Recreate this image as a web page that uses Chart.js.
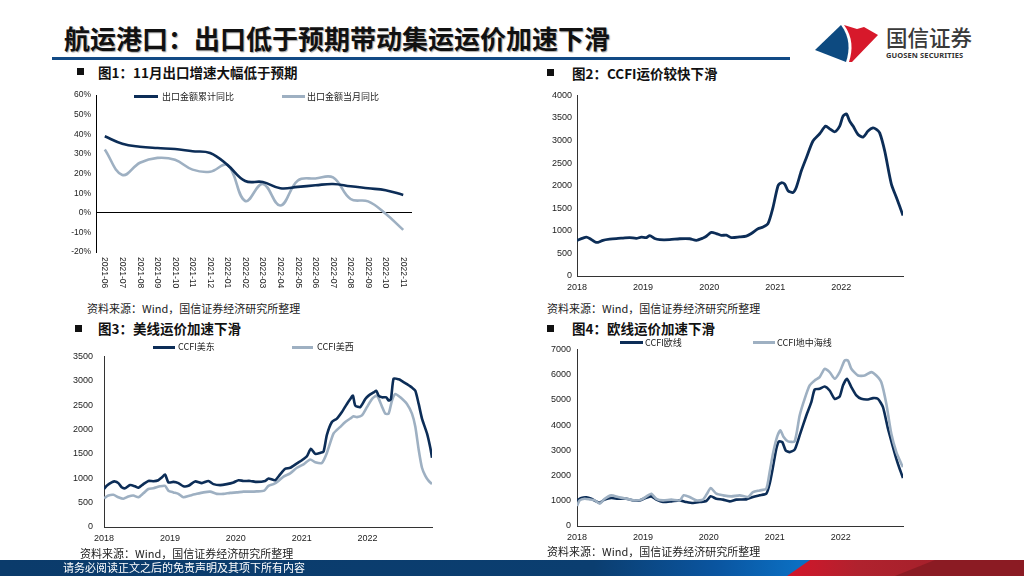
<!DOCTYPE html>
<html><head><meta charset="utf-8">
<script src="https://cdn.jsdelivr.net/npm/chart.js@4.4.1/dist/chart.umd.min.js"></script>
<style>
html,body{margin:0;padding:0;}
body{width:1024px;height:576px;position:relative;background:#fff;overflow:hidden;font-family:"Noto Sans CJK SC","Noto Sans",sans-serif;color:#111;}
.abs{position:absolute;white-space:nowrap;}
canvas{position:absolute;}
.sq{position:absolute;width:7px;height:7px;background:#111;}
.sub{position:absolute;font-size:13.5px;font-weight:bold;line-height:14px;white-space:nowrap;color:#111;}
.src{position:absolute;font-size:11px;line-height:12px;white-space:nowrap;color:#222;}
.lg{position:absolute;height:3px;}
.lgt{position:absolute;font-size:9px;line-height:10px;white-space:nowrap;color:#222;}
</style></head><body>

<svg class="abs" style="left:0;top:0;" width="1024" height="576">
  <defs>
    <linearGradient id="fb" x1="0" y1="0" x2="1" y2="0">
      <stop offset="0" stop-color="#0b3b6b"/>
      <stop offset="0.58" stop-color="#0b3e70"/>
      <stop offset="0.70" stop-color="#0a55a0"/>
      <stop offset="0.78" stop-color="#0b6fc2"/>
    </linearGradient>
    <linearGradient id="fr" x1="0" y1="0" x2="1" y2="0">
      <stop offset="0" stop-color="#d4152a"/>
      <stop offset="0.3" stop-color="#b0222e"/>
      <stop offset="1" stop-color="#9a1f28"/>
    </linearGradient>
  </defs>
  <rect x="0" y="560" width="1024" height="16" fill="url(#fb)"/>
  <polygon points="787,576 810,560 1024,560 1024,576" fill="url(#fr)"/>
  <polygon points="895,576 935,560 1024,560 1024,576" fill="#8b1b23"/>
  <rect x="52" y="57" width="738" height="3" fill="#124a85"/>
  <path d="M815,50 L841,25 C850,37 850,50 846,62 Z" fill="#0d4a80"/>
  <path d="M844,25 L857,29 L864,27 L878,35 L852,62 L849,62 C853,50 853,37 844,25 Z" fill="#d7192b"/>
</svg>

<div class="abs" style="left:64px;top:24px;font-size:26px;line-height:28px;font-weight:bold;color:#111;text-shadow:1px 1px 1px #aaa;">航运港口：出口低于预期带动集运运价加速下滑</div>
<div class="abs" style="left:886px;top:25px;font-size:21.5px;line-height:24px;color:#3a3a3a;font-weight:500;">国信证券</div>
<div class="abs" style="left:886px;top:50px;font-size:7.5px;line-height:10px;color:#333;font-weight:bold;font-family:'Noto Sans','DejaVu Sans',sans-serif;letter-spacing:0.1px;">GUOSEN SECURITIES</div>

<div class="sq" style="left:77px;top:68px;"></div>
<div class="sub" style="left:98px;top:65px;">图1：11月出口增速大幅低于预期</div>
<div class="sq" style="left:547px;top:69px;"></div>
<div class="sub" style="left:572px;top:66px;">图2：CCFI运价较快下滑</div>
<div class="sq" style="left:75px;top:325px;"></div>
<div class="sub" style="left:98px;top:321px;">图3：美线运价加速下滑</div>
<div class="sq" style="left:547px;top:325px;"></div>
<div class="sub" style="left:572px;top:321px;">图4：欧线运价加速下滑</div>

<canvas id="c1" width="365" height="215" style="left:55px;top:85px;width:365px;height:215px;"></canvas>
<canvas id="c2" width="370" height="215" style="left:540px;top:85px;width:370px;height:215px;"></canvas>
<canvas id="c3" width="385" height="212" style="left:55px;top:340px;width:385px;height:212px;"></canvas>
<canvas id="c4" width="370" height="212" style="left:540px;top:338px;width:370px;height:212px;"></canvas>

<div class="lg" style="left:134px;top:95px;width:24px;background:#0c2d57;"></div>
<div class="lgt" style="left:162px;top:92px;">出口金额累计同比</div>
<div class="lg" style="left:282px;top:95px;width:23px;background:#9eb0c2;"></div>
<div class="lgt" style="left:307px;top:92px;">出口金额当月同比</div>

<div class="lg" style="left:153px;top:346px;width:22px;background:#0c2d57;"></div>
<div class="lgt" style="left:178px;top:342px;">CCFI美东</div>
<div class="lg" style="left:292px;top:346px;width:21px;background:#9eb0c2;"></div>
<div class="lgt" style="left:317px;top:342px;">CCFI美西</div>

<div class="lg" style="left:620px;top:341px;width:23px;background:#0c2d57;"></div>
<div class="lgt" style="left:645px;top:338px;">CCFI欧线</div>
<div class="lg" style="left:753px;top:341px;width:22px;background:#9eb0c2;"></div>
<div class="lgt" style="left:777px;top:338px;">CCFI地中海线</div>

<div class="src" style="left:87px;top:302px;">资料来源：Wind，国信证券经济研究所整理</div>
<div class="src" style="left:547px;top:302px;">资料来源：Wind，国信证券经济研究所整理</div>
<div class="src" style="left:80px;top:547px;">资料来源：Wind，国信证券经济研究所整理</div>
<div class="src" style="left:547px;top:545px;">资料来源：Wind，国信证券经济研究所整理</div>

<div class="abs" style="left:63px;top:561px;font-size:11px;line-height:13px;color:#fff;">请务必阅读正文之后的免责声明及其项下所有内容</div>

<script>
// ---------- Chart 1: export growth ----------
const exportMonths = ['2021-06','2021-07','2021-08','2021-09','2021-10','2021-11','2021-12','2022-01','2022-02','2022-03','2022-04','2022-05','2022-06','2022-07','2022-08','2022-09','2022-10','2022-11'];
const exportCumYoY = [39.0,35.2,33.7,33.0,32.5,31.4,30.5,24.3,16.2,15.7,12.5,13.2,14.0,14.7,13.5,12.5,11.5,9.1];
const exportMonthYoY = [32.3,19.3,25.5,28.0,27.0,22.0,20.9,24.3,6.0,14.7,3.7,16.5,17.5,18.0,7.0,5.8,-0.5,-8.7];
const pctTicks = [60,50,40,30,20,10,0,-10,-20];

// ---------- Chart 2: CCFI composite ----------
const ccfiDates = [2018.000,2018.091,2018.141,2018.192,2018.267,2018.318,2018.393,2018.494,2018.595,2018.696,
  2018.797,2018.898,2018.974,2019.049,2019.100,2019.175,2019.251,2019.402,2019.554,2019.705,
  2019.806,2019.907,2019.957,2020.033,2020.108,2020.184,2020.260,2020.335,2020.461,2020.562,
  2020.638,2020.739,2020.815,2020.890,2020.966,2021.042,2021.092,2021.143,2021.193,2021.269,
  2021.319,2021.395,2021.471,2021.571,2021.672,2021.763,2021.823,2021.899,2021.975,2022.025,
  2022.076,2022.126,2022.177,2022.252,2022.328,2022.404,2022.479,2022.530,2022.580,2022.656,
  2022.757,2022.832,2022.933];
const ccfiValues = [790,840,860,830,760,745,790,815,830,840,
  850,835,860,850,895,830,805,805,825,825,
  790,840,880,965,940,900,905,850,865,885,
  940,1045,1085,1160,1520,2000,2065,2035,1890,1850,
  1965,2330,2620,2990,3150,3320,3260,3195,3320,3540,
  3590,3430,3320,3135,3075,3210,3280,3245,3170,2770,
  2035,1745,1340];

// ---------- Chart 3: US lines ----------
const usEastDates = [2018.000,2018.041,2018.116,2018.167,2018.218,2018.268,2018.319,2018.395,2018.471,2018.522,
  2018.597,2018.673,2018.749,2018.825,2018.876,2018.927,2018.977,2019.053,2019.129,2019.205,
  2019.281,2019.382,2019.484,2019.585,2019.661,2019.762,2019.863,2019.965,2020.041,2020.116,
  2020.218,2020.319,2020.446,2020.496,2020.597,2020.673,2020.749,2020.825,2020.927,2021.003,
  2021.078,2021.139,2021.205,2021.281,2021.332,2021.382,2021.458,2021.534,2021.610,2021.686,
  2021.737,2021.777,2021.813,2021.889,2021.965,2022.015,2022.091,2022.132,2022.167,2022.218,
  2022.284,2022.319,2022.354,2022.395,2022.471,2022.522,2022.597,2022.673,2022.724,2022.775,
  2022.825,2022.901,2022.952,2022.977];
const usEastValues = [780,845,915,935,900,815,795,860,835,805,
  880,945,940,960,1015,1075,915,925,900,835,
  845,935,900,945,880,860,880,915,960,945,
  945,925,945,995,960,1080,1195,1215,1305,1370,
  1450,1605,1500,1520,1550,1890,2155,2225,2360,2525,
  2625,2695,2490,2460,2625,2695,2760,2795,2695,2660,
  2660,2595,2625,3045,3030,2995,2930,2860,2795,2525,
  2225,1920,1620,1420];
const usWestDates = [2018.000,2018.066,2018.142,2018.218,2018.294,2018.370,2018.446,2018.522,2018.597,2018.673,
  2018.749,2018.851,2018.927,2018.977,2019.053,2019.129,2019.205,2019.306,2019.408,2019.509,
  2019.610,2019.711,2019.813,2019.914,2020.015,2020.116,2020.218,2020.319,2020.430,2020.496,
  2020.572,2020.648,2020.724,2020.825,2020.927,2021.028,2021.129,2021.205,2021.306,2021.382,
  2021.484,2021.585,2021.661,2021.737,2021.787,2021.838,2021.914,2021.990,2022.066,2022.142,
  2022.218,2022.268,2022.319,2022.370,2022.420,2022.496,2022.597,2022.673,2022.724,2022.775,
  2022.825,2022.876,2022.927,2022.977];
const usWestValues = [590,645,660,610,580,625,645,610,690,780,
  795,835,845,745,710,680,610,645,680,710,
  725,680,680,700,710,725,725,730,745,845,
  880,945,1035,1100,1215,1285,1385,1330,1315,1520,
  1920,2055,2155,2225,2270,2255,2290,2460,2625,2695,
  2470,2325,2325,2595,2730,2660,2525,2325,2055,1585,
  1215,1050,945,880];

// ---------- Chart 4: Europe lines ----------
const euDates = [2018.000,2018.066,2018.142,2018.217,2018.293,2018.344,2018.420,2018.521,2018.622,2018.748,
  2018.875,2018.951,2019.052,2019.128,2019.204,2019.305,2019.431,2019.558,2019.659,2019.760,
  2019.861,2019.962,2020.028,2020.114,2020.215,2020.316,2020.417,2020.569,2020.670,2020.771,
  2020.872,2020.923,2020.973,2021.024,2021.064,2021.115,2021.166,2021.226,2021.302,2021.378,
  2021.479,2021.555,2021.606,2021.681,2021.757,2021.833,2021.909,2021.985,2022.035,2022.096,
  2022.162,2022.238,2022.314,2022.415,2022.491,2022.566,2022.642,2022.718,2022.794,2022.845,
  2022.895,2022.946];
const euValues = [1015,1110,1135,1080,975,925,1045,1110,1080,1080,
  1005,1015,1120,1175,1045,950,975,1015,950,910,
  950,990,1175,1080,1045,975,1045,1055,1150,1215,
  1280,1675,2335,3060,3355,3325,2995,2930,3025,3590,
  4380,4910,5410,5440,5530,5370,5040,5135,5570,5835,
  5505,5175,5040,5015,5070,5040,4710,3855,3130,2665,
  2270,1900];
const medDates = [2018.000,2018.040,2018.116,2018.192,2018.268,2018.344,2018.420,2018.521,2018.622,2018.748,
  2018.875,2018.976,2019.077,2019.128,2019.204,2019.305,2019.431,2019.558,2019.618,2019.709,
  2019.810,2019.911,2019.972,2020.028,2020.114,2020.215,2020.341,2020.468,2020.594,2020.670,
  2020.771,2020.872,2020.923,2020.973,2021.034,2021.085,2021.135,2021.201,2021.302,2021.378,
  2021.454,2021.530,2021.606,2021.681,2021.757,2021.833,2021.909,2021.985,2022.061,2022.111,
  2022.162,2022.263,2022.364,2022.465,2022.541,2022.617,2022.693,2022.769,2022.845,2022.920,
  2022.946];
const medValues = [790,1015,1080,1055,1015,885,1080,1215,1150,1080,
  1015,1045,1215,1280,1080,1015,1045,1015,1215,1150,
  1015,1045,1280,1505,1280,1215,1175,1215,1150,1345,
  1410,1480,2140,2865,3525,3790,3525,3355,3355,4380,
  5040,5570,5770,5900,6230,6100,5835,6100,6560,6560,
  6230,5965,5965,6100,5965,5700,4845,3655,2930,2470,
  2335];

const yearTicks = [2018,2019,2020,2021,2022];

const DARK = '#0c2d57';
const LIGHT = '#9eb0c2';
const TICK_FONT = '"Liberation Sans", Arial, sans-serif';

function pairs(xs, ys){ return xs.map((x,i)=>({x:x, y:ys[i]})); }

Chart.defaults.animation = false;
Chart.defaults.font.family = TICK_FONT;
Chart.defaults.color = '#222';

// rotated (clockwise) category labels for chart 1
const rotLabels = {
  id:'rotLabels',
  afterDraw(chart){
    const xs = chart.scales.x, ctx = chart.ctx, top = chart.chartArea.bottom + 5;
    ctx.save();
    ctx.font = '8.5px ' + TICK_FONT;
    ctx.fillStyle = '#222';
    ctx.textAlign = 'left';
    ctx.textBaseline = 'middle';
    chart.data.labels.forEach((l,i)=>{
      const x = xs.getPixelForValue(i);
      ctx.save(); ctx.translate(x, top); ctx.rotate(Math.PI/2); ctx.fillText(l,0,0); ctx.restore();
    });
    ctx.restore();
  }
};

new Chart(document.getElementById('c1'), {
  type:'line',
  data:{
    labels: exportMonths,
    datasets:[
      {label:'出口金额累计同比', data: exportCumYoY, borderColor: DARK, borderWidth:2.6, pointRadius:0, tension:0.4},
      {label:'出口金额当月同比', data: exportMonthYoY, borderColor: LIGHT, borderWidth:2.6, pointRadius:0, tension:0.4}
    ]
  },
  options:{
    responsive:false, maintainAspectRatio:false,
    layout:{padding:{top:8,right:8,bottom:0,left:0}},
    plugins:{legend:{display:false}, tooltip:{enabled:false}},
    scales:{
      x:{type:'category', offset:true, ticks:{display:false}, grid:{display:false}, border:{display:false},
         afterFit: s => { s.height = 48; }},
      y:{min:-20, max:60,
         afterBuildTicks: s => { s.ticks = pctTicks.map(v=>({value:v})); },
         ticks:{font:{size:8.5}, padding:5, callback: v => v + '%'},
         grid:{drawTicks:false, color: c => (c.tick && c.tick.value === 0) ? '#000' : 'rgba(0,0,0,0)', lineWidth:1},
         border:{display:true, color:'#000', width:1},
         afterFit: s => { s.width = 41; }}
    }
  },
  plugins:[rotLabels]
});

function yearChart(id, datasets, yMax, yStep, xMax, yWidth, pad, xHeight, yPad){
  const yt = [];
  for (let v = 0; v <= yMax; v += yStep) yt.push(v);
  return new Chart(document.getElementById(id), {
    type:'line',
    data:{datasets: datasets},
    options:{
      responsive:false, maintainAspectRatio:false,
      layout:{padding:pad},
      plugins:{legend:{display:false}, tooltip:{enabled:false}},
      parsing:false,
      scales:{
        x:{type:'linear', min:2018, max:xMax,
           afterBuildTicks: s => { s.ticks = yearTicks.map(v=>({value:v})); },
           ticks:{font:{size:9}, padding:6, maxRotation:0, callback: v => String(v)},
           grid:{display:true, drawOnChartArea:false, drawTicks:false},
           border:{display:true, color:'#333', width:1},
           afterFit: s => { s.height = xHeight; }},
        y:{min:0, max:yMax,
           afterBuildTicks: s => { s.ticks = yt.map(v=>({value:v})); },
           ticks:{font:{size:9}, padding:yPad, callback: v => String(v)},
           grid:{display:true, drawOnChartArea:false, drawTicks:false},
           border:{display:true, color:'#333', width:1},
           afterFit: s => { s.width = yWidth; }}
      }
    }
  });
}

yearChart('c2', [
  {label:'CCFI', data: pairs(ccfiDates, ccfiValues), borderColor: DARK, borderWidth:2.8, pointRadius:0, tension:0.25}
], 4000, 500, 2022.933, 37, {top:9,right:7,bottom:0,left:0}, 24, 5);

yearChart('c3', [
  {label:'CCFI美东', data: pairs(usEastDates, usEastValues), borderColor: DARK, borderWidth:2.6, pointRadius:0, tension:0.2},
  {label:'CCFI美西', data: pairs(usWestDates, usWestValues), borderColor: LIGHT, borderWidth:2.6, pointRadius:0, tension:0.2}
], 3500, 500, 2022.977, 49, {top:13,right:8,bottom:0,left:0}, 25, 11);

yearChart('c4', [
  {label:'CCFI地中海线', data: pairs(medDates, medValues), borderColor: LIGHT, borderWidth:2.6, pointRadius:0, tension:0.2},
  {label:'CCFI欧线', data: pairs(euDates, euValues), borderColor: DARK, borderWidth:2.6, pointRadius:0, tension:0.2}
], 7000, 1000, 2022.946, 37, {top:11,right:7,bottom:0,left:0}, 24, 6);
</script>
</body></html>
